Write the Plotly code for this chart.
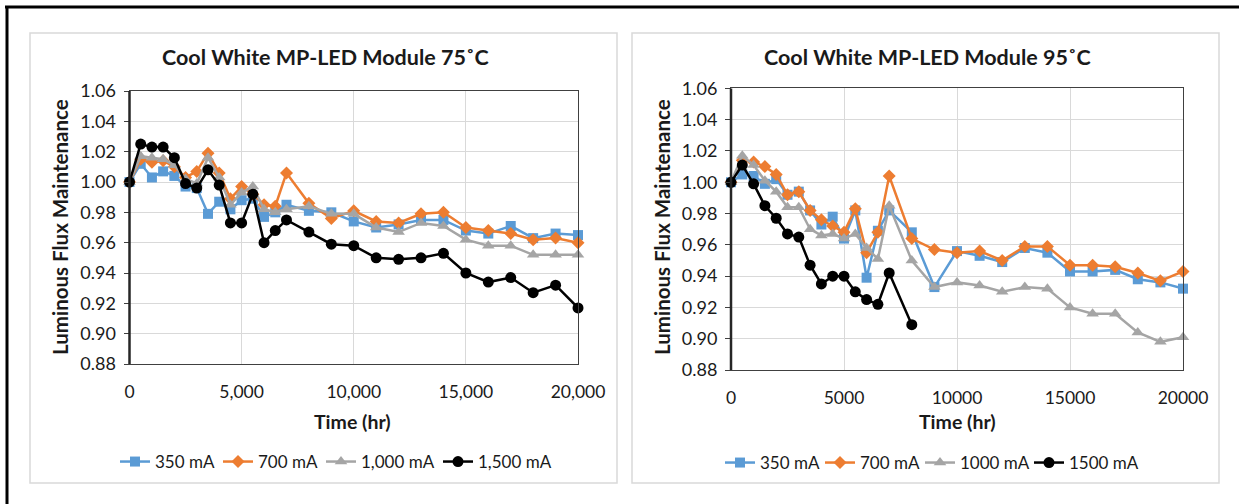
import plotly.graph_objects as go

W, H = 1239, 504

# ---------------- data ----------------
x_full = [0, 500, 1000, 1500, 2000, 2500, 3000, 3500, 4000, 4500, 5000, 5500, 6000, 6500, 7000,
          8000, 9000, 10000, 11000, 12000, 13000, 14000, 15000, 16000, 17000, 18000, 19000, 20000]
x_short = [0, 500, 1000, 1500, 2000, 2500, 3000, 3500, 4000, 4500, 5000, 5500, 6000, 6500, 7000, 8000]

series_names_75 = ["350 mA", "700 mA", "1,000 mA", "1,500 mA"]
series_names_95 = ["350 mA", "700 mA", "1000 mA", "1500 mA"]

t75_350 = [1.000, 1.012, 1.003, 1.007, 1.004, 0.997, 0.996, 0.979, 0.987, 0.982, 0.988, 0.989, 0.977, 0.980, 0.985,
           0.981, 0.980, 0.974, 0.970, 0.972, 0.975, 0.975, 0.968, 0.966, 0.971, 0.963, 0.966, 0.965]
t75_700 = [1.000, 1.015, 1.013, 1.014, 1.010, 1.003, 1.007, 1.019, 1.006, 0.989, 0.997, 0.992, 0.985, 0.984, 1.006,
           0.986, 0.976, 0.981, 0.974, 0.973, 0.979, 0.980, 0.970, 0.968, 0.966, 0.962, 0.963, 0.960]
t75_1000 = [1.000, 1.017, 1.016, 1.015, 1.011, 1.002, 0.999, 1.016, 1.003, 0.985, 0.993, 0.997, 0.982, 0.980, 0.982,
            0.984, 0.979, 0.979, 0.970, 0.967, 0.973, 0.971, 0.962, 0.958, 0.958, 0.952, 0.952, 0.952]
t75_1500 = [1.000, 1.025, 1.023, 1.023, 1.016, 0.999, 0.996, 1.008, 0.998, 0.973, 0.973, 0.992, 0.960, 0.968, 0.975,
            0.967, 0.959, 0.958, 0.950, 0.949, 0.950, 0.953, 0.940, 0.934, 0.937, 0.927, 0.932, 0.917]

t95_350 = [1.000, 1.005, 1.004, 0.999, 1.002, 0.992, 0.994, 0.982, 0.973, 0.978, 0.964, 0.982, 0.939, 0.969, 0.982,
           0.968, 0.933, 0.956, 0.953, 0.949, 0.958, 0.955, 0.943, 0.943, 0.944, 0.938, 0.936, 0.932]
t95_700 = [1.000, 1.014, 1.013, 1.010, 1.005, 0.992, 0.994, 0.982, 0.976, 0.972, 0.968, 0.983, 0.955, 0.968, 1.004,
           0.964, 0.957, 0.955, 0.956, 0.950, 0.959, 0.959, 0.947, 0.947, 0.946, 0.942, 0.937, 0.943]
t95_1000 = [1.000, 1.017, 1.011, 1.001, 0.994, 0.984, 0.984, 0.970, 0.966, 0.967, 0.964, 0.967, 0.958, 0.951, 0.985,
            0.950, 0.933, 0.936, 0.934, 0.930, 0.933, 0.932, 0.920, 0.916, 0.916, 0.904, 0.898, 0.901]
t95_1500 = [1.000, 1.011, 0.999, 0.985, 0.977, 0.967, 0.965, 0.947, 0.935, 0.940, 0.940, 0.930, 0.925, 0.922, 0.942,
            0.909]

y_ticks = [0.88, 0.90, 0.92, 0.94, 0.96, 0.98, 1.00, 1.02, 1.04, 1.06]
x_ticks = [0, 5000, 10000, 15000, 20000]
x_ticklabels_75 = ["0", "5,000", "10,000", "15,000", "20,000"]
x_ticklabels_95 = ["0", "5000", "10000", "15000", "20000"]

titles = ["Cool White MP-LED Module 75˚C", "Cool White MP-LED Module 95˚C"]
y_title = "Luminous Flux Maintenance"
x_title = "Time (hr)"

# ---------------- styles ----------------
FONT = "Lato"
colors = ["#5B9BD5", "#ED7D31", "#A5A5A5", "#000000"]
symbols = ["square", "diamond", "triangle-up", "circle"]
msizes = [10, 10, 11, 11]
legend_w_75 = [58, 58, 72, 74]
legend_w_95 = [55, 55, 64, 66]
GRID = "#d9d9d9"
TXT = "#1a1a1a"

def px(x):
    return x / W

def py(y):
    return 1 - y / H

fig = go.Figure()

def add_series(xs_list, ys_list, names, xa, ya, legend, lws):
    for i, (xs, ys, nm) in enumerate(zip(xs_list, ys_list, names)):
        fig.add_trace(go.Scatter(
            x=xs, y=ys, name=nm, mode="lines+markers",
            xaxis=xa, yaxis=ya, legend=legend, legendwidth=lws[i],
            line=dict(color=colors[i], width=2.5),
            marker=dict(symbol=symbols[i], size=msizes[i], color=colors[i]),
            cliponaxis=False,
        ))

add_series([x_full, x_full, x_full, x_full], [t75_350, t75_700, t75_1000, t75_1500],
           series_names_75, "x", "y", "legend", legend_w_75)
add_series([x_full, x_full, x_full, x_short], [t95_350, t95_700, t95_1000, t95_1500],
           series_names_95, "x2", "y2", "legend2", legend_w_95)

# plot areas (pixels)
L = dict(x0=129.5, x1=578, y0=91, y1=364)
R = dict(x0=731, x1=1183, y0=88.4, y1=370)

def xaxis_cfg(area, labels):
    return dict(domain=[px(area["x0"]), px(area["x1"])], range=[0, 20000],
                tickvals=x_ticks, ticktext=labels, showgrid=True, gridcolor=GRID, gridwidth=1,
                showline=True, mirror=True, linecolor="#404040", linewidth=1,
                ticks="", zeroline=False, ticklabelstandoff=12, automargin=False,
                tickfont=dict(family=FONT, size=17.5, color=TXT), fixedrange=True)

def yaxis_cfg(area, anchor):
    return dict(domain=[py(area["y1"]), py(area["y0"])], range=[0.88, 1.06],
                tickvals=y_ticks, ticktext=[f"{v:.2f}" for v in y_ticks],
                showgrid=True, gridcolor=GRID, gridwidth=1,
                showline=True, mirror=True, linecolor="#404040", linewidth=1,
                ticks="outside", ticklen=5, tickcolor="#404040", zeroline=False,
                ticklabelstandoff=4, anchor=anchor, automargin=False,
                tickfont=dict(family=FONT, size=18, color=TXT), fixedrange=True)

fig.update_layout(
    width=W, height=H, margin=dict(l=0, r=0, t=0, b=0, pad=0, autoexpand=False),
    paper_bgcolor="white", plot_bgcolor="white",
    showlegend=True,
    xaxis=dict(**xaxis_cfg(L, x_ticklabels_75), anchor="y"),
    yaxis=yaxis_cfg(L, "x"),
    xaxis2=dict(**xaxis_cfg(R, x_ticklabels_95), anchor="y2"),
    yaxis2=yaxis_cfg(R, "x2"),
    legend=dict(orientation="h", x=px(115), y=py(462), xanchor="left", yanchor="middle",
                font=dict(family=FONT, size=17, color=TXT), itemwidth=30, tracegroupgap=0,
                bgcolor="rgba(0,0,0,0)"),
    legend2=dict(orientation="h", x=px(720), y=py(463), xanchor="left", yanchor="middle",
                 font=dict(family=FONT, size=17, color=TXT), itemwidth=30, tracegroupgap=0,
                 bgcolor="rgba(0,0,0,0)"),
)

shapes = []
# outer black frame (top and left edges)
shapes.append(dict(type="line", xref="paper", yref="paper", x0=px(5), x1=1, y0=py(7), y1=py(7),
                   line=dict(color="black", width=3)))
shapes.append(dict(type="line", xref="paper", yref="paper", x0=px(7), x1=px(7), y0=py(6), y1=0,
                   line=dict(color="black", width=3)))
# panel borders
for (a, b) in [(30, 617), (632, 1219)]:
    shapes.append(dict(type="rect", xref="paper", yref="paper", x0=px(a), x1=px(b), y0=py(483), y1=py(33),
                       line=dict(color="#d9d9d9", width=1.5), layer="below"))
# thick left value axes
for xr, yr in [("x domain", "y domain"), ("x2 domain", "y2 domain")]:
    shapes.append(dict(type="line", xref=xr, yref=yr, x0=0, x1=0, y0=0, y1=1,
                       line=dict(color="#262626", width=2.5)))
fig.update_layout(shapes=shapes)

ann = []
for cx, t in [(325, titles[0]), (927, titles[1])]:
    ann.append(dict(text=f"<b>{t}</b>", x=px(cx), y=py(57), xref="paper", yref="paper",
                    showarrow=False, xanchor="center", yanchor="middle",
                    font=dict(family=FONT, size=21.5, color=TXT)))
for cx in [60, 662]:
    ann.append(dict(text=f"<b>{y_title}</b>", x=px(cx), y=py(227), xref="paper", yref="paper",
                    showarrow=False, textangle=-90, xanchor="center", yanchor="middle",
                    font=dict(family=FONT, size=20.5, color=TXT)))
for cx in [353, 957]:
    ann.append(dict(text=f"<b>{x_title}</b>", x=px(cx), y=py(421), xref="paper", yref="paper",
                    showarrow=False, xanchor="center", yanchor="middle",
                    font=dict(family=FONT, size=19.5, color=TXT)))
fig.update_layout(annotations=ann)

fig.write_html("out.html")
